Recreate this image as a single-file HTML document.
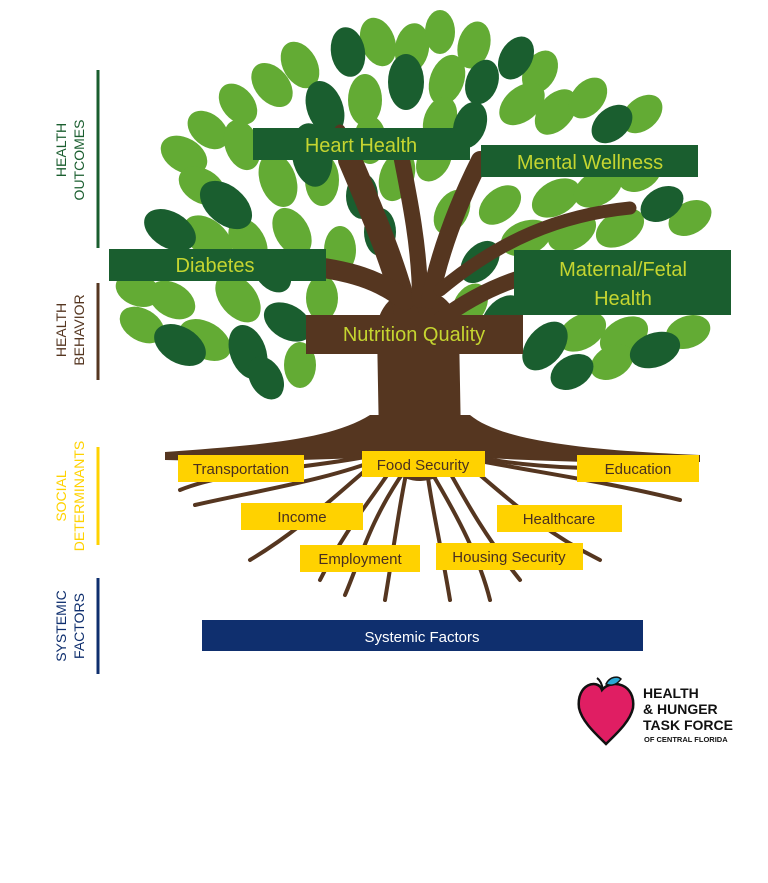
<!DOCTYPE html>
<html><head><meta charset="utf-8"><style>
body{margin:0;background:#fff;width:768px;height:878px;overflow:hidden;font-family:"Liberation Sans",sans-serif}
</style></head><body>
<svg width="768" height="878" viewBox="0 0 768 878" xmlns="http://www.w3.org/2000/svg">
<rect width="768" height="878" fill="#fff"/>
<g fill="#63ab34">
<ellipse cx="378" cy="42" rx="17" ry="25" transform="rotate(-20 378 42)"/>
<ellipse cx="412" cy="48" rx="17" ry="25" transform="rotate(10 412 48)"/>
<ellipse cx="440" cy="32" rx="15" ry="22"/>
<ellipse cx="474" cy="45" rx="16" ry="24" transform="rotate(15 474 45)"/>
<ellipse cx="300" cy="65" rx="17" ry="25" transform="rotate(-30 300 65)"/>
<ellipse cx="447" cy="80" rx="17" ry="26" transform="rotate(20 447 80)"/>
<ellipse cx="540" cy="72" rx="16" ry="23" transform="rotate(30 540 72)"/>
<ellipse cx="272" cy="85" rx="17" ry="25" transform="rotate(-40 272 85)"/>
<ellipse cx="238" cy="104" rx="16" ry="23" transform="rotate(-40 238 104)"/>
<ellipse cx="365" cy="100" rx="17" ry="26"/>
<ellipse cx="522" cy="104" rx="17" ry="26" transform="rotate(50 522 104)"/>
<ellipse cx="556" cy="112" rx="17" ry="26" transform="rotate(40 556 112)"/>
<ellipse cx="588" cy="98" rx="16" ry="23" transform="rotate(40 588 98)"/>
<ellipse cx="208" cy="130" rx="16" ry="23" transform="rotate(-50 208 130)"/>
<ellipse cx="242" cy="145" rx="17" ry="26" transform="rotate(-20 242 145)"/>
<ellipse cx="642" cy="114" rx="16" ry="23" transform="rotate(50 642 114)"/>
<ellipse cx="184" cy="155" rx="17" ry="25" transform="rotate(-60 184 155)"/>
<ellipse cx="202" cy="186" rx="17" ry="25" transform="rotate(-60 202 186)"/>
<ellipse cx="278" cy="180" rx="18" ry="28" transform="rotate(-20 278 180)"/>
<ellipse cx="322" cy="180" rx="17" ry="26"/>
<ellipse cx="397" cy="176" rx="17" ry="26" transform="rotate(20 397 176)"/>
<ellipse cx="434" cy="160" rx="16" ry="23" transform="rotate(30 434 160)"/>
<ellipse cx="370" cy="140" rx="16" ry="24"/>
<ellipse cx="440" cy="120" rx="16" ry="24" transform="rotate(20 440 120)"/>
<ellipse cx="452" cy="212" rx="16" ry="24" transform="rotate(30 452 212)"/>
<ellipse cx="500" cy="205" rx="16" ry="24" transform="rotate(50 500 205)"/>
<ellipse cx="340" cy="250" rx="16" ry="24"/>
<ellipse cx="556" cy="198" rx="17" ry="26" transform="rotate(60 556 198)"/>
<ellipse cx="598" cy="188" rx="17" ry="26" transform="rotate(60 598 188)"/>
<ellipse cx="640" cy="174" rx="16" ry="23" transform="rotate(60 640 174)"/>
<ellipse cx="208" cy="238" rx="18" ry="28" transform="rotate(-50 208 238)"/>
<ellipse cx="248" cy="242" rx="17" ry="26" transform="rotate(-30 248 242)"/>
<ellipse cx="292" cy="232" rx="17" ry="26" transform="rotate(-30 292 232)"/>
<ellipse cx="526" cy="238" rx="17" ry="26" transform="rotate(70 526 238)"/>
<ellipse cx="572" cy="232" rx="17" ry="26" transform="rotate(60 572 232)"/>
<ellipse cx="620" cy="228" rx="17" ry="26" transform="rotate(60 620 228)"/>
<ellipse cx="690" cy="218" rx="16" ry="23" transform="rotate(60 690 218)"/>
<ellipse cx="138" cy="290" rx="16" ry="23" transform="rotate(-70 138 290)"/>
<ellipse cx="142" cy="325" rx="16" ry="24" transform="rotate(-60 142 325)"/>
<ellipse cx="172" cy="300" rx="17" ry="25" transform="rotate(-60 172 300)"/>
<ellipse cx="238" cy="298" rx="18" ry="28" transform="rotate(-40 238 298)"/>
<ellipse cx="205" cy="340" rx="18" ry="28" transform="rotate(-60 205 340)"/>
<ellipse cx="322" cy="298" rx="16" ry="23"/>
<ellipse cx="470" cy="305" rx="16" ry="23" transform="rotate(30 470 305)"/>
<ellipse cx="582" cy="332" rx="17" ry="26" transform="rotate(60 582 332)"/>
<ellipse cx="624" cy="336" rx="17" ry="26" transform="rotate(60 624 336)"/>
<ellipse cx="688" cy="332" rx="16" ry="23" transform="rotate(70 688 332)"/>
<ellipse cx="612" cy="362" rx="16" ry="23" transform="rotate(60 612 362)"/>
<ellipse cx="300" cy="365" rx="16" ry="23"/>
</g>
<g fill="#1a5e2f">
<ellipse cx="348" cy="52" rx="17" ry="25" transform="rotate(-10 348 52)"/>
<ellipse cx="406" cy="82" rx="18" ry="28"/>
<ellipse cx="482" cy="82" rx="16" ry="23" transform="rotate(20 482 82)"/>
<ellipse cx="516" cy="58" rx="16" ry="23" transform="rotate(30 516 58)"/>
<ellipse cx="325" cy="108" rx="18" ry="28" transform="rotate(-20 325 108)"/>
<ellipse cx="470" cy="125" rx="16" ry="24" transform="rotate(20 470 125)"/>
<ellipse cx="612" cy="124" rx="16" ry="23" transform="rotate(50 612 124)"/>
<ellipse cx="226" cy="205" rx="19" ry="30" transform="rotate(-50 226 205)"/>
<ellipse cx="312" cy="155" rx="20" ry="32" transform="rotate(-10 312 155)"/>
<ellipse cx="362" cy="196" rx="16" ry="23"/>
<ellipse cx="380" cy="232" rx="16" ry="24"/>
<ellipse cx="480" cy="262" rx="16" ry="24" transform="rotate(40 480 262)"/>
<ellipse cx="662" cy="204" rx="16" ry="23" transform="rotate(60 662 204)"/>
<ellipse cx="170" cy="230" rx="18" ry="28" transform="rotate(-60 170 230)"/>
<ellipse cx="272" cy="272" rx="16" ry="23" transform="rotate(-40 272 272)"/>
<ellipse cx="180" cy="345" rx="18" ry="28" transform="rotate(-60 180 345)"/>
<ellipse cx="248" cy="352" rx="18" ry="28" transform="rotate(-20 248 352)"/>
<ellipse cx="288" cy="322" rx="17" ry="26" transform="rotate(-60 288 322)"/>
<ellipse cx="502" cy="318" rx="17" ry="26" transform="rotate(40 502 318)"/>
<ellipse cx="545" cy="346" rx="18" ry="28" transform="rotate(40 545 346)"/>
<ellipse cx="655" cy="350" rx="17" ry="26" transform="rotate(70 655 350)"/>
<ellipse cx="572" cy="372" rx="16" ry="23" transform="rotate(60 572 372)"/>
<ellipse cx="266" cy="378" rx="16" ry="23" transform="rotate(-30 266 378)"/>
</g>
<!-- trunk -->
<g fill="none" stroke="#553620" stroke-linecap="round">
<path d="M420 440 L418 330" stroke-width="82"/>
<path d="M410 330 C400 280 380 230 350 160" stroke-width="24"/>
<path d="M405 300 C380 280 350 270 300 265" stroke-width="20"/>
<path d="M420 300 C420 250 410 200 400 150" stroke-width="16"/>
<path d="M430 300 C440 250 460 200 480 160" stroke-width="18"/>
<path d="M440 290 C500 240 560 215 630 208" stroke-width="13"/>
<path d="M440 320 C480 290 520 275 560 268" stroke-width="16"/>
<path d="M360 170 L340 130" stroke-width="11"/>
</g>
<path d="M165 452 C260 445 330 440 370 415 L470 415 C500 440 580 450 700 455 L700 462 C600 464 520 460 470 457 L380 457 C320 460 250 462 165 460 Z" fill="#553620"/>
<g fill="none" stroke="#553620" stroke-width="4" stroke-linecap="round">
<path d="M400 455 C380 490 350 520 320 580"/>
<path d="M410 455 C400 500 395 540 385 600"/>
<path d="M425 455 C430 500 440 540 450 600"/>
<path d="M440 455 C460 490 480 530 520 580"/>
<path d="M390 455 C330 480 260 490 195 505"/>
<path d="M450 455 C520 470 600 480 680 500"/>
<path d="M380 458 C330 500 300 530 250 560"/>
<path d="M460 458 C510 500 540 530 600 560"/>
<path d="M370 456 C300 470 230 470 180 490"/>
<path d="M470 456 C540 470 620 470 660 465"/>
<path d="M405 470 C370 520 360 560 345 595"/>
<path d="M430 470 C460 520 480 560 490 600"/>
</g>
<g stroke-width="3">
<line x1="98" y1="70" x2="98" y2="248" stroke="#1a5e2f"/>
<line x1="98" y1="283" x2="98" y2="380" stroke="#553620"/>
<line x1="98" y1="447" x2="98" y2="545" stroke="#ffd200"/>
<line x1="98" y1="578" x2="98" y2="674" stroke="#0f2f6e"/>
</g>
<g font-family="Liberation Sans, sans-serif" font-size="14" text-anchor="middle">
<text transform="translate(66 150) rotate(-90)" fill="#1a5e2f">HEALTH</text>
<text transform="translate(84 160) rotate(-90)" fill="#1a5e2f">OUTCOMES</text>
<text transform="translate(66 330) rotate(-90)" fill="#553620">HEALTH</text>
<text transform="translate(84 330) rotate(-90)" fill="#553620">BEHAVIOR</text>
<text transform="translate(66 496) rotate(-90)" fill="#ffd200">SOCIAL</text>
<text transform="translate(84 496) rotate(-90)" fill="#ffd200">DETERMINANTS</text>
<text transform="translate(66 626) rotate(-90)" fill="#0f2f6e">SYSTEMIC</text>
<text transform="translate(84 626) rotate(-90)" fill="#0f2f6e">FACTORS</text>
</g>
<g fill="#1a5e2f">
<rect x="253" y="128" width="217" height="32"/>
<rect x="481" y="145" width="217" height="32"/>
<rect x="109" y="249" width="217" height="32"/>
<rect x="514" y="250" width="217" height="65"/>
</g>
<rect x="306" y="315" width="217" height="39" fill="#553620"/>
<g font-family="Liberation Sans, sans-serif" font-size="20" fill="#c5d530" text-anchor="middle">
<text x="361" y="152">Heart Health</text>
<text x="590" y="169">Mental Wellness</text>
<text x="215" y="272">Diabetes</text>
<text x="623" y="276">Maternal/Fetal</text>
<text x="623" y="305">Health</text>
<text x="414" y="341">Nutrition Quality</text>
</g>
<g fill="#ffd200">
<rect x="178" y="455" width="126" height="27"/>
<rect x="362" y="451" width="123" height="26"/>
<rect x="577" y="455" width="122" height="27"/>
<rect x="241" y="503" width="122" height="27"/>
<rect x="497" y="505" width="125" height="27"/>
<rect x="300" y="545" width="120" height="27"/>
<rect x="436" y="543" width="147" height="27"/>
</g>
<g font-family="Liberation Sans, sans-serif" font-size="15" fill="#4a3020" text-anchor="middle">
<text x="241" y="474">Transportation</text>
<text x="423" y="470">Food Security</text>
<text x="638" y="474">Education</text>
<text x="302" y="522">Income</text>
<text x="559" y="524">Healthcare</text>
<text x="360" y="564">Employment</text>
<text x="509" y="562">Housing Security</text>
</g>
<rect x="202" y="620" width="441" height="31" fill="#0f2f6e"/>
<text x="422" y="642" font-family="Liberation Sans, sans-serif" font-size="15" fill="#fff" text-anchor="middle">Systemic Factors</text>
<path d="M602 690 C612 678 636 684 633 708 C630 722 615 735 606 744 C597 735 582 722 579 708 C576 684 598 678 602 690 Z" fill="#e01e63" stroke="#111" stroke-width="2.5"/>
<path d="M603 690 C602 684 600 680 597 678" stroke="#111" stroke-width="2" fill="none"/>
<path d="M606 684 C610 676 618 676 621 679 C616 686 610 686 606 684 Z" fill="#2aa9d6" stroke="#111" stroke-width="1.5"/>
<g font-family="Liberation Sans, sans-serif" font-weight="bold" fill="#111">
<text x="643" y="698" font-size="14">HEALTH</text>
<text x="643" y="714" font-size="14">&amp; HUNGER</text>
<text x="643" y="730" font-size="14">TASK FORCE</text>
<text x="644" y="742" font-size="7.5">OF CENTRAL FLORIDA</text>
</g>
</svg>
</body></html>
